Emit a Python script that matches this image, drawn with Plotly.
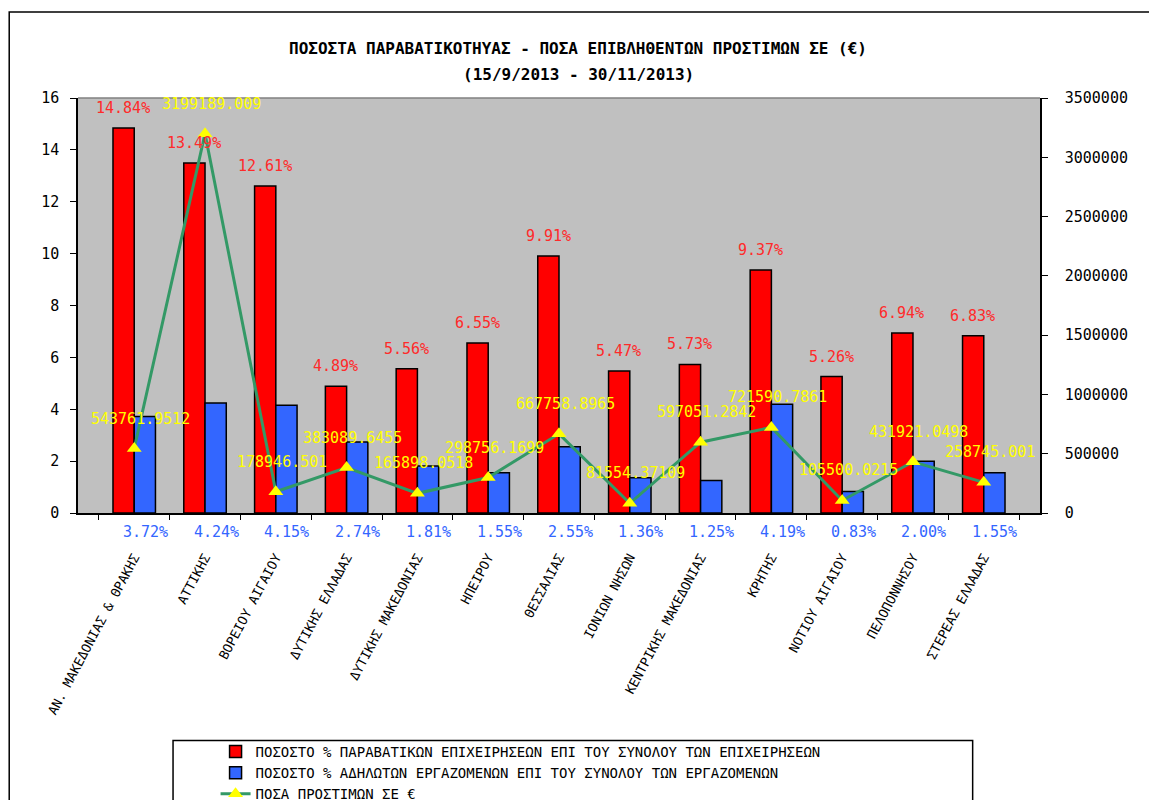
import plotly.graph_objects as go

# Regions (x categories)
regions = [
    "ΑΝ. ΜΑΚΕΔΟΝΙΑΣ & ΘΡΑΚΗΣ", "ΑΤΤΙΚΗΣ", "ΒΟΡΕΙΟΥ ΑΙΓΑΙΟΥ", "ΔΥΤΙΚΗΣ ΕΛΛΑΔΑΣ",
    "ΔΥΤΙΚΗΣ ΜΑΚΕΔΟΝΙΑΣ", "ΗΠΕΙΡΟΥ", "ΘΕΣΣΑΛΙΑΣ", "ΙΟΝΙΩΝ ΝΗΣΩΝ",
    "ΚΕΝΤΡΙΚΗΣ ΜΑΚΕΔΟΝΙΑΣ", "ΚΡΗΤΗΣ", "ΝΟΤΙΟΥ ΑΙΓΑΙΟΥ", "ΠΕΛΟΠΟΝΝΗΣΟΥ",
    "ΣΤΕΡΕΑΣ ΕΛΛΑΔΑΣ",
]

# % violating businesses (left axis)
pct_violating = [14.84, 13.49, 12.61, 4.89, 5.56, 6.55, 9.91, 5.47, 5.73, 9.37, 5.26, 6.94, 6.83]

# % undeclared employees (left axis)
pct_undeclared = [3.72, 4.24, 4.15, 2.74, 1.81, 1.55, 2.55, 1.36, 1.25, 4.19, 0.83, 2.00, 1.55]

# fines in euro (right axis)
fines = [543761.9512, 3199189.009, 178946.501, 383089.6455, 165898.0518, 298756.1699,
         667758.8965, 81554.37109, 597051.2842, 721590.7861, 105500.0215, 431921.0498,
         258745.001]

name_red = "ΠΟΣΟΣΤΟ % ΠΑΡΑΒΑΤΙΚΩΝ ΕΠΙΧΕΙΡΗΣΕΩΝ ΕΠΙ ΤΟΥ ΣΥΝΟΛΟΥ ΤΩΝ ΕΠΙΧΕΙΡΗΣΕΩΝ"
name_blue = "ΠΟΣΟΣΤΟ % ΑΔΗΛΩΤΩΝ ΕΡΓΑΖΟΜΕΝΩΝ ΕΠΙ ΤΟΥ ΣΥΝΟΛΟΥ ΤΩΝ ΕΡΓΑΖΟΜΕΝΩΝ"
name_line = "ΠΟΣΑ ΠΡΟΣΤΙΜΩΝ ΣΕ €"

MONO = "DejaVu Sans Mono"

fig = go.Figure()
fig.add_trace(go.Bar(
    x=regions, y=pct_violating, name=name_red,
    marker=dict(color="#FF0000", line=dict(color="black", width=1.5)),
))
fig.add_trace(go.Bar(
    x=regions, y=pct_undeclared, name=name_blue,
    marker=dict(color="#3366FF", line=dict(color="black", width=1.5)),
))
fig.add_trace(go.Scatter(
    x=regions, y=fines, name=name_line, yaxis="y2",
    mode="lines+markers",
    line=dict(color="#339966", width=3),
    marker=dict(symbol="triangle-up", size=13, color="#FFFF00"),
))

annotations = []
# red bar labels
for r, v in zip(regions, pct_violating):
    annotations.append(dict(
        x=r, y=v, xref="x", yref="y", text=f"{v:.2f}%", showarrow=False,
        xshift=-11, yshift=9, yanchor="bottom",
        font=dict(family=MONO, size=15, color="#FF2A2A"),
    ))
# blue bar labels (below the axis)
for r, v in zip(regions, pct_undeclared):
    annotations.append(dict(
        x=r, y=0, xref="x", yref="y", text=f"{v:.2f}%", showarrow=False,
        xshift=11, yshift=-19, yanchor="middle",
        font=dict(family=MONO, size=15, color="#3366FF"),
    ))
# fine labels
for r, v in zip(regions, fines):
    annotations.append(dict(
        x=r, y=v, xref="x", yref="y2", text=f"{v}", showarrow=False,
        xshift=6, yshift=19, yanchor="bottom",
        font=dict(family=MONO, size=15, color="#FFFF00"),
    ))
# title
annotations.append(dict(
    x=0.52, y=1.12, xref="paper", yref="paper", showarrow=False, yanchor="middle",
    text="<b>ΠΟΣΟΣΤΑ ΠΑΡΑΒΑΤΙΚΟΤΗΥΑΣ - ΠΟΣΑ ΕΠΙΒΛΗΘΕΝΤΩΝ ΠΡΟΣΤΙΜΩΝ ΣΕ (€)</b>",
    font=dict(family=MONO, size=16, color="black"),
))
annotations.append(dict(
    x=0.52, y=1.056, xref="paper", yref="paper", showarrow=False, yanchor="middle",
    text="<b>(15/9/2013 - 30/11/2013)</b>",
    font=dict(family=MONO, size=16, color="black"),
))

shapes = [
    # outer chart frame
    dict(type="rect", xref="paper", yref="paper", x0=-0.0715, x1=1.14, y0=-0.73, y1=1.207,
         line=dict(color="black", width=1.5)),
    # legend box
    dict(type="rect", xref="paper", yref="paper", x0=0.0988, x1=0.930, y0=-0.75, y1=-0.548,
         line=dict(color="black", width=1.5)),
    # top border of plot area
    dict(type="line", xref="paper", yref="paper", x0=0, x1=1, y0=1, y1=1,
         line=dict(color="#808080", width=1.5)),
]

# page has an 8px body margin, so margins are trimmed by 8px on left/top
fig.update_layout(
    width=1157, height=800,
    margin=dict(l=70, r=125, t=90, b=295, autoexpand=False),
    paper_bgcolor="white", plot_bgcolor="#C0C0C0",
    barmode="group", bargap=0.4, bargroupgap=0,
    showlegend=True,
    legend=dict(
        x=0.143, y=-0.537, xanchor="left", yanchor="top",
        bgcolor="rgba(0,0,0,0)", borderwidth=0,
        font=dict(family=MONO, size=14, color="black"),
        traceorder="normal", tracegroupgap=0,
    ),
    xaxis=dict(
        tickangle=-62, ticks="outside", tickson="boundaries", ticklen=5,
        tickcolor="black", showline=True, linecolor="black", linewidth=1.5,
        tickfont=dict(family=MONO, size=13, color="black"),
        ticklabelstandoff=30, showgrid=False, automargin=False,
    ),
    yaxis=dict(
        range=[0, 16], dtick=2, ticks="outside", ticklen=6, tickcolor="black",
        showline=True, linecolor="black", linewidth=1.5, showgrid=False, zeroline=False,
        tickfont=dict(family=MONO, size=15, color="black"), ticklabelstandoff=8,
        automargin=False,
    ),
    yaxis2=dict(
        overlaying="y", side="right", range=[0, 3500000], dtick=500000,
        tickformat="d", ticks="outside", ticklen=6, tickcolor="black",
        showline=True, linecolor="black", linewidth=1.5, showgrid=False, zeroline=False,
        tickfont=dict(family=MONO, size=15, color="black"), ticklabelstandoff=14,
        automargin=False,
    ),
    annotations=annotations,
    shapes=shapes,
)

fig.write_html("out.html")
